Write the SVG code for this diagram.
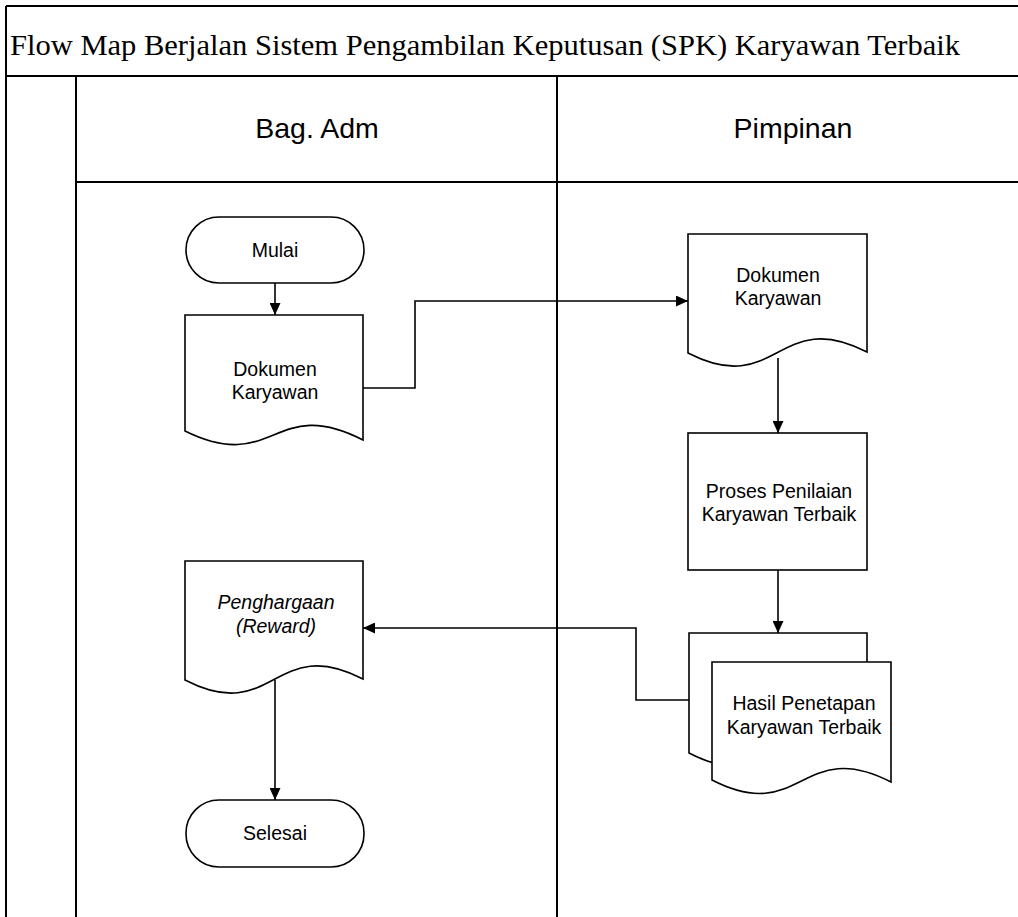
<svg xmlns="http://www.w3.org/2000/svg" width="1018" height="917" viewBox="0 0 1018 917">
<defs>
<marker id="arr" viewBox="0 0 12 11" refX="12" refY="5.5" markerWidth="12" markerHeight="11" markerUnits="userSpaceOnUse" orient="auto">
<path d="M0,0 L12,5.5 L0,11 Z" fill="#000"/>
</marker>
<style>
.frame{fill:none;stroke:#000;stroke-width:2}
.shape{fill:#fff;stroke:#000;stroke-width:1.6}
.conn{fill:none;stroke:#000;stroke-width:1.6}
.t{font-family:"Liberation Sans",Arial,sans-serif;font-size:19.5px;fill:#000;text-anchor:middle}
.it{font-style:italic}
.lane{font-family:"Liberation Sans",Arial,sans-serif;font-size:28.5px;fill:#000;text-anchor:middle}
.title{font-family:"Liberation Serif","Times New Roman",serif;font-size:30px;fill:#000}
</style>
</defs>
<rect width="1018" height="917" fill="#fff"/>
<g id="frame">
<path class="frame" d="M6,6 H1030 M6,6 V930 M6,76 H1030 M76,76 V930 M557,76 V930 M76,182 H1030"/>
<text class="title" x="10" y="55" textLength="950" lengthAdjust="spacingAndGlyphs">Flow Map Berjalan Sistem Pengambilan Keputusan (SPK) Karyawan Terbaik</text>
<text class="lane" x="317" y="138">Bag. Adm</text>
<text class="lane" x="793" y="138">Pimpinan</text>
</g>
<g id="connectors">
<path class="conn" d="M275,283 V315" marker-end="url(#arr)"/>
<path class="conn" d="M363,388 H415 V301 H688" marker-end="url(#arr)"/>
<path class="conn" d="M778,358 V433" marker-end="url(#arr)"/>
<path class="conn" d="M778,570 V633" marker-end="url(#arr)"/>
<path class="conn" d="M689,700 H636 V628 H363" marker-end="url(#arr)"/>
<path class="conn" d="M275,680 V800" marker-end="url(#arr)"/>
</g>
<g id="mulai">
<rect class="shape" x="186" y="217" width="178" height="66" rx="33" ry="33"/>
<text class="t" x="275" y="257">Mulai</text>
</g>
<g id="dok-adm">
<path class="shape" d="M185,315 H363 V440 C274,394 274,475 185,431 Z"/>
<text class="t" x="275" y="376">Dokumen</text>
<text class="t" x="275" y="399">Karyawan</text>
</g>
<g id="dok-pimpinan">
<path class="shape" d="M688,234 H867 V352 C777.5,306 777.5,399 688,353 Z"/>
<text class="t" x="778" y="282">Dokumen</text>
<text class="t" x="778" y="305">Karyawan</text>
</g>
<g id="proses">
<rect class="shape" x="688" y="433" width="179" height="137"/>
<text class="t" x="779" y="498">Proses Penilaian</text>
<text class="t" x="779" y="521">Karyawan Terbaik</text>
</g>
<g id="hasil">
<path class="shape" d="M689,633 H867 V753 C778,707 778,799 689,753 Z"/>
<path class="shape" d="M712,662 H891 V782 C801.5,736 801.5,826 712,780 Z"/>
<text class="t" x="804" y="710">Hasil Penetapan</text>
<text class="t" x="804" y="734">Karyawan Terbaik</text>
</g>
<g id="penghargaan">
<path class="shape" d="M185,561 H363 V679 C274,633 274,726 185,680 Z"/>
<text class="t it" x="276" y="609">Penghargaan</text>
<text class="t it" x="276" y="633">(Reward)</text>
</g>
<g id="selesai">
<rect class="shape" x="186" y="800" width="178" height="67" rx="33" ry="33"/>
<text class="t" x="275" y="840">Selesai</text>
</g>
</svg>
